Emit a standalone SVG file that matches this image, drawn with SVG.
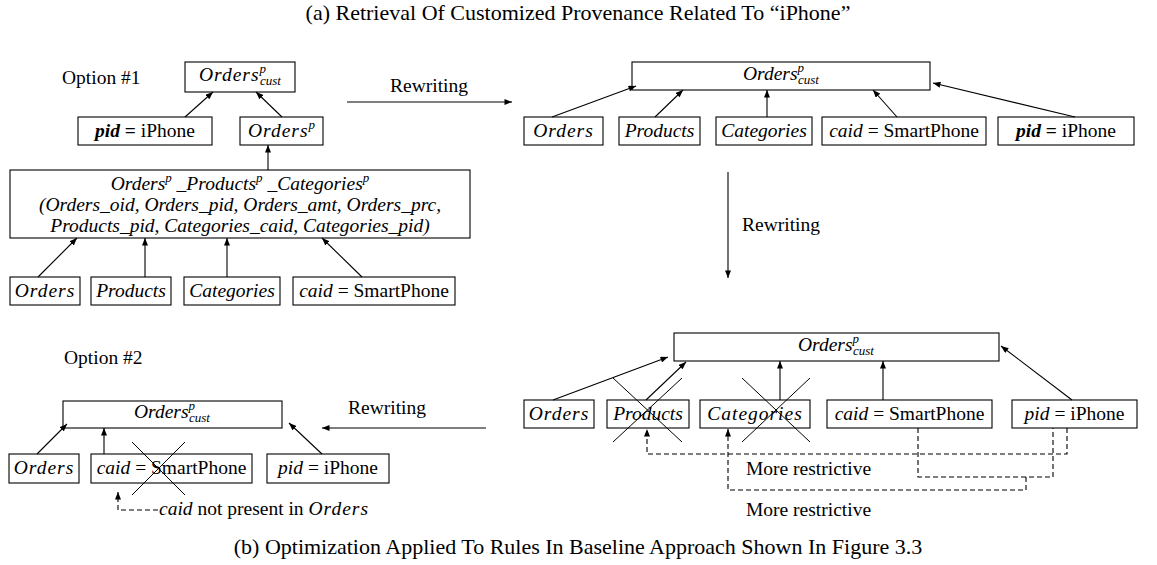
<svg xmlns="http://www.w3.org/2000/svg" width="1157" height="565" viewBox="0 0 1157 565">
<style>
text{font-family:"Liberation Serif","Times New Roman",serif;font-size:19.5px;fill:#000}
.c{text-anchor:middle}
.it{font-style:italic}
.ls{letter-spacing:1px}
.bi{font-style:italic;font-weight:bold}
.bd{font-weight:bold}
.sm{font-size:13px}
.cap{font-size:22px}
rect{fill:#fff;stroke:#000;stroke-width:1.1}
.ln line,.ln path{stroke:#000;stroke-width:1.1;fill:none}
.ar{marker-end:url(#ah)}
.ds{stroke-dasharray:5,3}
.x line{stroke:#000;stroke-width:1}
</style>
<defs>
<marker id="ah" viewBox="0 0 10 8" refX="10" refY="4" markerWidth="8" markerHeight="6" markerUnits="userSpaceOnUse" orient="auto"><path d="M0,0 L10,4 L0,8 z" fill="#000"/></marker>
</defs>

<text class="c cap" x="578" y="20">(a) Retrieval Of Customized Provenance Related To “iPhone”</text>
<text class="c cap" x="578" y="554">(b) Optimization Applied To Rules In Baseline Approach Shown In Figure 3.3</text>

<text x="62" y="84">Option #1</text>
<text x="64" y="364">Option #2</text>
<text x="390" y="92">Rewriting</text>
<text x="742" y="231">Rewriting</text>
<text x="348" y="414">Rewriting</text>
<text x="746" y="475">More restrictive</text>
<text x="746" y="516">More restrictive</text>
<text x="159" y="515"><tspan class="it">caid</tspan> not present in <tspan class="it ls">Orders</tspan></text>

<!-- Option 1 -->
<g id="n1_cust"><rect x="185" y="62" width="110" height="30"/><text class="c" x="240" y="81"><tspan class="it ls">Orders</tspan><tspan class="it sm" dy="-8">p</tspan><tspan class="it sm" dx="-6" dy="12">cust</tspan></text></g>
<g id="n1_pid"><rect x="78" y="117" width="134" height="28"/><text class="c" x="145" y="137"><tspan class="bi">pid</tspan> <tspan class="bd">=</tspan> iPhone</text></g>
<g id="n1_op"><rect x="240" y="117" width="83" height="28"/><text class="c" x="281.5" y="137"><tspan class="it ls">Orders</tspan><tspan class="it sm" dy="-8">p</tspan></text></g>
<g id="n1_join"><rect x="10" y="170" width="460" height="68"/>
<text class="c it" x="240" y="190">Orders<tspan class="sm" dy="-8">p</tspan><tspan dy="8"> _Products</tspan><tspan class="sm" dy="-8">p</tspan><tspan dy="8"> _Categories</tspan><tspan class="sm" dy="-8">p</tspan></text>
<text class="c it" x="240" y="211">(Orders_oid, Orders_pid, Orders_amt, Orders_prc,</text>
<text class="c it" x="240" y="232">Products_pid, Categories_caid, Categories_pid)</text></g>
<g id="n1_orders"><rect x="10" y="277" width="70" height="28"/><text class="c it ls" x="45" y="297">Orders</text></g>
<g id="n1_products"><rect x="91" y="277" width="80" height="28"/><text class="c it" x="131" y="297">Products</text></g>
<g id="n1_categories"><rect x="184" y="277" width="96" height="28"/><text class="c it" x="232" y="297">Categories</text></g>
<g id="n1_caid"><rect x="293" y="277" width="162" height="28"/><text class="c" x="374" y="297"><tspan class="it">caid</tspan> = SmartPhone</text></g>

<!-- Rewritten top right -->
<g id="n2_cust"><rect x="632" y="62" width="298" height="28"/><text class="c" x="781" y="80"><tspan class="it">Orders</tspan><tspan class="it sm" dy="-8">p</tspan><tspan class="it sm" dx="-6" dy="12">cust</tspan></text></g>
<g id="n2_orders"><rect x="524" y="117" width="79" height="28"/><text class="c it ls" x="563.5" y="137">Orders</text></g>
<g id="n2_products"><rect x="619" y="117" width="81" height="28"/><text class="c it" x="659.5" y="137">Products</text></g>
<g id="n2_categories"><rect x="716" y="117" width="96" height="28"/><text class="c it" x="764" y="137">Categories</text></g>
<g id="n2_caid"><rect x="822" y="117" width="164" height="28"/><text class="c" x="904" y="137"><tspan class="it">caid</tspan> = SmartPhone</text></g>
<g id="n2_pid"><rect x="998" y="117" width="136" height="28"/><text class="c" x="1066" y="137"><tspan class="bi">pid</tspan> <tspan class="bd">=</tspan> iPhone</text></g>

<!-- Bottom right -->
<g id="n3_cust"><rect x="674" y="333" width="325" height="28"/><text class="c" x="836" y="351"><tspan class="it">Orders</tspan><tspan class="it sm" dy="-8">p</tspan><tspan class="it sm" dx="-6" dy="12">cust</tspan></text></g>
<g id="n3_orders"><rect x="524" y="400" width="70" height="28"/><text class="c it ls" x="559" y="420">Orders</text></g>
<g id="n3_products"><rect x="607" y="400" width="82" height="28"/><text class="c it" x="648" y="420">Products</text></g>
<g id="n3_categories"><rect x="700" y="400" width="110" height="28"/><text class="c it ls" x="755" y="420">Categories</text></g>
<g id="n3_caid"><rect x="827" y="400" width="165" height="28"/><text class="c" x="909.5" y="420"><tspan class="it">caid</tspan> = SmartPhone</text></g>
<g id="n3_pid"><rect x="1012" y="400" width="125" height="28"/><text class="c" x="1074.5" y="420"><tspan class="it">pid</tspan> = iPhone</text></g>

<!-- Bottom left -->
<g id="n4_cust"><rect x="63" y="401" width="219" height="27"/><text class="c" x="172" y="418"><tspan class="it">Orders</tspan><tspan class="it sm" dy="-8">p</tspan><tspan class="it sm" dx="-6" dy="12">cust</tspan></text></g>
<g id="n4_orders"><rect x="9" y="454" width="70" height="29"/><text class="c it ls" x="44" y="474">Orders</text></g>
<g id="n4_caid"><rect x="91" y="454" width="161" height="29"/><text class="c" x="171.5" y="474"><tspan class="it">caid</tspan> = SmartPhone</text></g>
<g id="n4_pid"><rect x="267" y="454" width="122" height="29"/><text class="c" x="328" y="474"><tspan class="it">pid</tspan> = iPhone</text></g>

<g id="crosses" class="x">
<line x1="132" y1="442" x2="185" y2="495"/><line x1="185" y1="442" x2="132" y2="495"/>
<line x1="613" y1="378" x2="682" y2="442"/><line x1="682" y1="378" x2="613" y2="442"/>
<line x1="742" y1="378" x2="810" y2="442"/><line x1="810" y1="378" x2="742" y2="442"/>
</g>

<g id="connectors" class="ln">
<line class="ar" x1="185" y1="117" x2="213" y2="92"/>
<line class="ar" x1="282" y1="117" x2="256" y2="92"/>
<line class="ar" x1="268" y1="170" x2="268" y2="145"/>
<line class="ar" x1="38" y1="277" x2="77" y2="238"/>
<line class="ar" x1="145" y1="277" x2="145" y2="238"/>
<line class="ar" x1="227" y1="277" x2="227" y2="238"/>
<line class="ar" x1="362" y1="277" x2="322" y2="238"/>
<line class="ar" x1="347" y1="102" x2="512" y2="102"/>
<line class="ar" x1="552" y1="117" x2="636" y2="86"/>
<line class="ar" x1="655" y1="117" x2="683" y2="90"/>
<line class="ar" x1="767" y1="117" x2="767" y2="90"/>
<line class="ar" x1="897" y1="117" x2="873" y2="90"/>
<line class="ar" x1="1075" y1="117" x2="933" y2="83"/>
<line class="ar" x1="728" y1="172" x2="728" y2="278"/>
<line class="ar" x1="553" y1="400" x2="668" y2="357"/>
<line class="ar" x1="646" y1="400" x2="686" y2="362"/>
<line class="ar" x1="780" y1="400" x2="780" y2="361"/>
<line class="ar" x1="883" y1="400" x2="883" y2="361"/>
<line class="ar" x1="1072" y1="400" x2="1001" y2="346"/>
<line class="ar" x1="486" y1="428" x2="322" y2="428"/>
<line class="ar" x1="37" y1="454" x2="67" y2="424"/>
<line class="ar" x1="104" y1="454" x2="104" y2="428"/>
<line class="ar" x1="322" y1="454" x2="289" y2="423"/>
<path class="ar ds" d="M1067,428 V454 H647 V429"/>
<path class="ds" d="M918,428 V477 H1053 V428"/>
<path class="ar ds" d="M1026,477 V490 H728 V429"/>
<path class="ar ds" d="M158,510 H118 V492"/>
</g>
</svg>
